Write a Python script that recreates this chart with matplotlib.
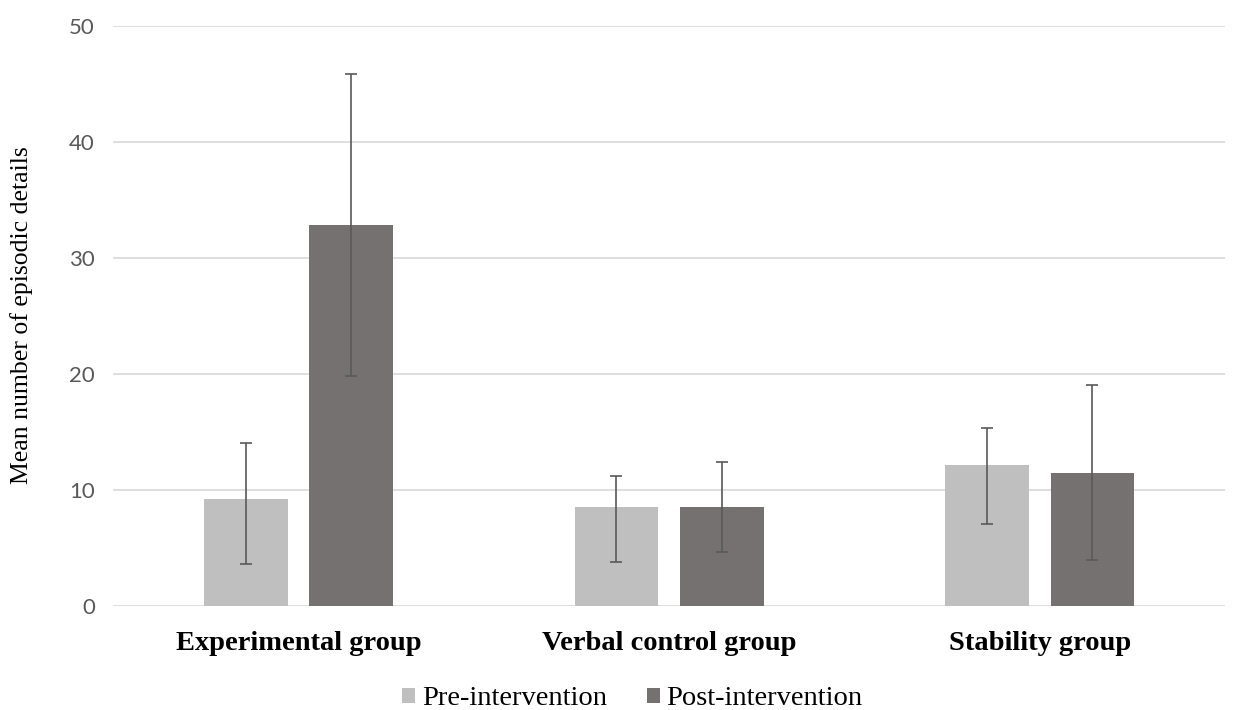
import numpy as np
import matplotlib
matplotlib.use('Agg')
import matplotlib.pyplot as plt

groups = ["Experimental group", "Verbal control group", "Stability group"]
series = ["Pre-intervention", "Post-intervention"]
pre_means = [9.2, 8.5, 12.1]
post_means = [32.8, 8.5, 11.4]
# error bar ends (lower, upper)
pre_low = [3.6, 3.8, 7.0]
pre_high = [14.0, 11.2, 15.3]
post_low = [19.8, 4.6, 3.9]
post_high = [45.8, 12.4, 19.0]

colors = ["#BFBFBF", "#767171"]
err_color = "#595959"

fig = plt.figure(figsize=(12.35, 7.1), dpi=100)
ax = fig.add_axes([0.0915, 0.147, 0.9005, 0.817])

x = np.arange(len(groups))
width = 0.226
offset = 0.142

for i, (means, low, high) in enumerate([(pre_means, pre_low, pre_high),
                                         (post_means, post_low, post_high)]):
    means = np.array(means)
    yerr = [means - np.array(low), np.array(high) - means]
    pos = x + (-offset if i == 0 else offset)
    ax.bar(pos, means, width, color=colors[i], label=series[i], zorder=2)
    ax.errorbar(pos, means, yerr=yerr, fmt='none', ecolor=err_color,
                elinewidth=1.2, capsize=4.5, capthick=1.2, zorder=3)

ax.set_xlim(-0.5, 2.5)
ax.set_ylim(0, 50)
ax.set_yticks(range(0, 51, 10))
ax.yaxis.grid(True, color="#D9D9D9", linewidth=1.2, zorder=0)
ax.set_axisbelow(True)
for s in ax.spines.values():
    s.set_visible(False)
ax.tick_params(axis='both', length=0)
ax.tick_params(axis='y', labelsize=16, labelcolor="#595959", pad=13)
for lbl in ax.get_yticklabels():
    lbl.set_family("Lato")

ax.set_xticks(x)
ax.set_xticklabels(groups, fontsize=20.5, fontweight='bold', family="Liberation Serif")
ax.tick_params(axis='x', pad=18)

ax.set_ylabel("Mean number of episodic details", fontsize=18.5, family="Liberation Serif", labelpad=26)

leg = fig.legend(loc='lower center', ncol=2, frameon=False,
                 prop={'family': 'Liberation Serif', 'size': 20.5},
                 bbox_to_anchor=(0.512, -0.038), handlelength=0.45, handleheight=0.45,
                 columnspacing=1.4, handletextpad=0.25)

fig.savefig("out.png", dpi=100)
